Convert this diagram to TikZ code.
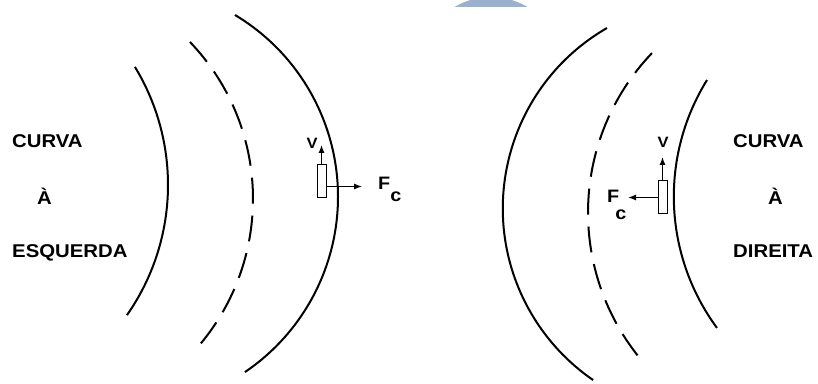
\documentclass[tikz,border=0pt]{standalone}
\usepackage{fontspec}
\setmainfont{Liberation Sans}
\newfontfamily\lblfont{Liberation Sans}[FakeStretch=1.1]
\usepackage{tikz}
\usetikzlibrary{arrows.meta,calc}
\definecolor{capblue}{RGB}{155,176,204}

\begin{document}
\begin{tikzpicture}[x=1pt,y=1pt]
    \tikzset{road/.style={line width=2pt}}
    \tikzset{lane/.style={line width=2pt,dash pattern=on 26pt off 12pt}}
    \tikzset{car/.style={draw,line width=1pt,minimum width=9pt,minimum height=33pt,inner sep=0pt}}
    \tikzset{vec/.style={-{Latex[length=8pt,width=6pt]},line width=1.1pt}}
    \tikzset{title/.style={font=\lblfont\bfseries\fontsize{18.5}{20}\selectfont,anchor=base west,inner sep=0pt}}
    \tikzset{sym/.style={font=\lblfont\bfseries\fontsize{18}{19}\selectfont,anchor=base west,inner sep=0pt}}
    \tikzset{vlab/.style={font=\lblfont\bfseries\fontsize{15}{16}\selectfont,inner sep=0pt}}
    \useasboundingbox[fill=white] (0,0) rectangle (818,383);
    \begin{scope}
      \clip (0,376) rectangle (818,383);
      \fill[capblue] (491,314.4) circle[radius=71.6pt];
    \end{scope}
    % curva a esquerda
    \draw[road] (-59.1,198.1) ++(31.3:227.1pt) arc[start angle=31.3,end angle=-35,radius=227.1pt];
    \draw[lane] (26.4,184.2) ++(43.8:226.6pt) arc[start angle=43.8,end angle=-41.2,radius=226.6pt];
    \draw[road] (126.2,186.3) ++(59.1:211.8pt) arc[start angle=59.1,end angle=-55.9,radius=211.8pt];
    \node[title] (curvaL) at (12,235) {CURVA};
    \node[title] (aL) at (37,178) {À};
    \node[title] (esq) at (12,126) {ESQUERDA};
    \node[car] (carL) at (321.5,201.5) {};
    \coordinate (vtipL) at (321.5,238);
    \coordinate (ftipL) at (362,196.5);
    \draw[vec] (carL.north) -- (vtipL);
    \draw[vec] (carL.east |- ftipL) -- (ftipL);
    \node[vlab] (vL) at (312,240) {V};
    \node[sym] (fcL) at (378,193) {F\raisebox{-12pt}{c}};
    % curva a direita
    \draw[road] (711.1,174.6) ++(120:208.3pt) arc[start angle=120,end angle=235.5,radius=208.3pt];
    \draw[lane] (818.7,170.5) ++(136.3:230.7pt) arc[start angle=136.3,end angle=220.4,radius=230.7pt];
    \draw[road] (895.1,186.4) ++(148.2:221.3pt) arc[start angle=148.2,end angle=216.4,radius=221.3pt];
    \node[title] (curvaR) at (733,235) {CURVA};
    \node[title] (aR) at (768,178) {À};
    \node[title] (dir) at (733,126) {DIREITA};
    \node[car] (carR) at (662.5,185.5) {};
    \coordinate (vtipR) at (662.5,226);
    \coordinate (ftipR) at (628,185.5);
    \draw[vec] (carR.north) -- (vtipR);
    \draw[vec] (carR.west) -- (ftipR);
    \node[vlab] (vR) at (663,241) {V};
    \node[sym] (fcR) at (607,180) {F\hspace{-4pt}\raisebox{-17pt}{c}};
\end{tikzpicture}
\end{document}
